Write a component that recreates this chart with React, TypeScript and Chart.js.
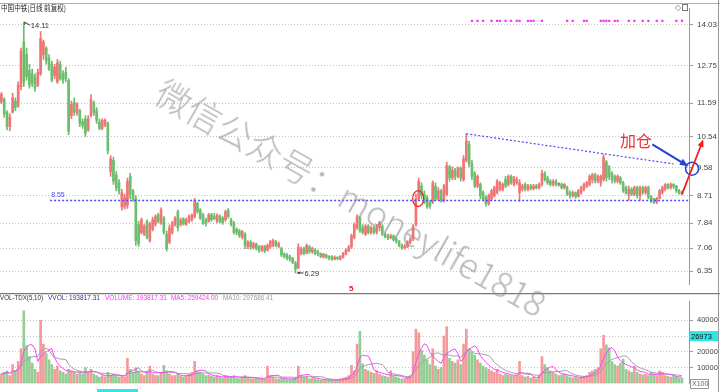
import React, { useEffect, useRef } from 'react';
import { Chart, registerables } from 'chart.js';
Chart.register(...registerables);

// ---------------- data ----------------
const opens = [
  11.62, 11.70, 11.30, 10.85, 11.30, 11.65, 11.50, 12.10, 13.50, 13.10,
  12.60, 12.50, 12.40, 12.15, 12.50, 13.10, 13.30, 13.00, 12.80, 12.45,
  12.25, 12.80, 12.50, 12.55, 12.30, 11.20, 11.60, 11.30, 11.35, 11.00,
  11.10, 10.75, 11.20, 11.60, 11.35, 11.00, 10.80, 10.90, 10.95, 9.45,
  9.80, 9.35, 9.10, 8.35, 8.35, 8.40, 9.30, 8.85, 8.60, 7.80,
  7.55, 7.50, 7.90, 7.30, 7.65, 7.80, 8.10, 7.85, 8.00, 7.50,
  7.25, 7.55, 7.80, 8.20, 7.80, 7.98, 7.80, 7.90, 7.95, 8.05,
  8.45, 8.25, 8.10, 7.95, 7.90, 8.10, 8.05, 7.90, 8.05, 8.00,
  7.95, 8.25, 7.95, 7.85, 7.65, 7.60, 7.40, 7.50, 7.10, 7.25,
  7.08, 7.20, 7.10, 7.00, 7.12, 7.00, 7.10, 7.15, 7.28, 7.12,
  7.05, 6.88, 6.85, 6.80, 6.75, 6.60, 6.45, 6.90, 7.05, 6.90,
  7.10, 6.95, 7.00, 6.95, 6.90, 6.80, 6.85, 6.80, 6.80, 6.72,
  6.78, 6.72, 6.78, 6.88, 6.98, 7.10, 7.40, 7.70, 8.00, 7.70,
  7.50, 7.75, 7.55, 7.70, 7.55, 7.70, 7.75, 7.50, 7.45, 7.38,
  7.45, 7.35, 7.28, 7.15, 7.07, 7.10, 7.25, 7.35, 7.80, 8.60,
  9.00, 8.75, 8.65, 8.50, 8.50, 9.00, 8.60, 8.85, 8.55, 8.75,
  9.60, 9.25, 9.50, 9.30, 9.55, 9.20, 9.80, 10.30, 9.70, 9.40,
  9.00, 9.05, 8.80, 8.65, 8.45, 8.60, 8.70, 8.80, 8.90, 8.90,
  9.20, 9.05, 9.30, 9.05, 9.10, 8.80, 8.90, 9.05, 8.90, 9.00,
  8.92, 9.00, 8.95, 9.05, 9.40, 9.25, 9.15, 9.05, 9.15, 9.05,
  9.05, 8.95, 8.95, 8.80, 8.70, 8.80, 8.68, 8.80, 8.90, 9.00,
  9.05, 9.20, 9.35, 9.15, 9.10, 9.20, 9.75, 9.60, 9.40, 9.30,
  9.15, 9.25, 9.10, 8.95, 8.75, 8.90, 8.75, 8.95, 8.70, 8.95,
  8.80, 8.95, 8.68, 8.60, 8.50, 8.62, 8.80, 8.90, 9.05, 8.95,
  9.05, 9.00, 8.85, 8.80,
];
const closes = [
  11.86, 11.25, 10.85, 11.15, 11.75, 11.45, 12.15, 13.20, 12.25, 12.40,
  12.15, 12.20, 12.05, 12.55, 13.60, 13.50, 12.90, 12.65, 12.30, 12.70,
  12.85, 12.35, 12.30, 12.35, 10.70, 11.55, 11.30, 11.55, 10.95, 10.90,
  10.65, 11.10, 11.70, 11.30, 11.05, 10.80, 11.05, 11.05, 10.10, 9.85,
  9.15, 8.95, 8.85, 8.80, 8.65, 9.15, 8.75, 8.60, 7.30, 7.20,
  7.95, 7.75, 7.40, 7.80, 7.95, 8.05, 7.90, 8.25, 7.55, 7.05,
  7.70, 7.85, 8.00, 7.70, 7.95, 7.82, 7.95, 8.05, 8.10, 8.55,
  8.20, 8.00, 7.85, 7.85, 8.10, 7.95, 7.98, 8.10, 7.90, 7.85,
  8.20, 8.05, 7.80, 7.55, 7.55, 7.45, 7.58, 7.15, 7.25, 7.10,
  7.20, 7.05, 7.00, 7.12, 6.98, 7.15, 7.28, 7.30, 7.15, 7.20,
  6.85, 6.80, 6.75, 6.72, 6.62, 6.40, 7.10, 7.05, 6.90, 7.15,
  6.95, 7.05, 6.90, 6.88, 6.80, 6.88, 6.78, 6.75, 6.72, 6.78,
  6.74, 6.80, 6.90, 7.00, 7.10, 7.45, 7.80, 8.05, 7.60, 7.55,
  7.75, 7.55, 7.70, 7.55, 7.72, 7.85, 7.50, 7.42, 7.38, 7.45,
  7.32, 7.28, 7.15, 7.07, 7.12, 7.25, 7.35, 7.75, 8.60, 9.15,
  8.70, 8.50, 8.35, 8.38, 9.10, 8.60, 8.85, 8.55, 9.00, 9.65,
  9.25, 9.50, 9.30, 9.55, 9.25, 9.85, 10.40, 9.70, 9.30, 9.00,
  9.30, 8.70, 8.60, 8.45, 8.70, 8.85, 8.95, 9.15, 9.10, 9.05,
  9.00, 9.30, 9.10, 9.25, 9.20, 9.10, 9.00, 8.90, 9.00, 8.92,
  9.00, 8.95, 9.05, 9.40, 9.20, 9.10, 9.05, 9.15, 9.05, 9.05,
  8.95, 9.05, 8.75, 8.70, 8.80, 8.68, 8.85, 8.95, 9.05, 9.10,
  9.30, 9.35, 9.15, 9.30, 9.30, 9.90, 9.25, 9.30, 9.20, 9.15,
  9.30, 9.10, 8.85, 8.78, 8.90, 8.75, 8.95, 8.70, 8.95, 8.80,
  8.95, 8.65, 8.55, 8.50, 8.62, 8.85, 8.95, 9.05, 8.95, 9.05,
  8.98, 8.85, 8.78, 8.75,
];
const highs = [
  11.92, 11.75, 11.35, 11.25, 11.90, 11.75, 12.25, 13.30, 14.11, 13.30,
  12.80, 12.65, 12.50, 12.65, 13.82, 13.55, 13.35, 13.10, 12.90, 12.80,
  12.95, 12.90, 12.60, 12.70, 12.35, 11.65, 11.75, 11.60, 11.40, 11.10,
  11.20, 11.20, 11.85, 11.65, 11.45, 11.10, 11.10, 11.10, 11.00, 9.95,
  9.90, 9.45, 9.20, 8.90, 8.75, 9.25, 9.40, 8.90, 8.70, 7.90,
  8.00, 7.80, 7.95, 7.87, 8.03, 8.10, 8.15, 8.32, 8.05, 7.60,
  7.79, 7.90, 8.05, 8.25, 8.00, 8.02, 8.00, 8.10, 8.13, 8.62,
  8.50, 8.30, 8.15, 8.00, 8.15, 8.15, 8.15, 8.13, 8.10, 8.05,
  8.25, 8.30, 8.00, 7.90, 7.70, 7.65, 7.62, 7.55, 7.30, 7.30,
  7.25, 7.22, 7.15, 7.15, 7.15, 7.20, 7.30, 7.35, 7.30, 7.25,
  7.10, 6.92, 6.90, 6.85, 6.78, 6.65, 7.20, 7.10, 7.10, 7.20,
  7.15, 7.10, 7.05, 7.00, 6.92, 6.90, 6.88, 6.83, 6.83, 6.82,
  6.80, 6.83, 6.93, 7.05, 7.15, 7.50, 7.85, 8.10, 8.05, 7.80,
  7.80, 7.80, 7.75, 7.75, 7.80, 7.90, 7.80, 7.55, 7.50, 7.50,
  7.48, 7.40, 7.30, 7.20, 7.18, 7.30, 7.40, 7.80, 8.75, 9.25,
  9.10, 8.85, 8.70, 8.55, 9.16, 9.10, 8.95, 8.90, 9.05, 9.75,
  9.65, 9.60, 9.55, 9.60, 9.60, 9.95, 10.63, 10.40, 9.80, 9.45,
  9.35, 9.10, 8.85, 8.70, 8.75, 8.90, 9.00, 9.20, 9.15, 9.10,
  9.30, 9.35, 9.35, 9.30, 9.28, 9.20, 9.05, 9.10, 9.05, 9.05,
  9.05, 9.05, 9.10, 9.50, 9.45, 9.30, 9.20, 9.20, 9.20, 9.10,
  9.10, 9.08, 9.00, 8.85, 8.85, 8.82, 8.90, 9.00, 9.10, 9.15,
  9.35, 9.40, 9.40, 9.35, 9.35, 9.98, 9.80, 9.65, 9.45, 9.35,
  9.35, 9.30, 9.15, 9.00, 9.00, 8.95, 9.00, 9.00, 9.00, 9.00,
  9.00, 9.00, 8.70, 8.62, 8.65, 8.90, 9.00, 9.08, 9.08, 9.10,
  9.08, 9.02, 8.90, 8.85,
];
const lows = [
  11.58, 11.15, 10.75, 10.72, 11.28, 11.35, 11.45, 12.00, 12.10, 12.30,
  12.05, 12.10, 11.95, 12.10, 12.45, 12.95, 12.80, 12.60, 12.25, 12.35,
  12.20, 12.30, 12.20, 12.25, 10.60, 11.10, 11.20, 11.20, 10.85, 10.80,
  10.55, 10.70, 11.15, 11.20, 10.95, 10.75, 10.75, 10.85, 10.00, 9.30,
  9.05, 8.85, 8.75, 8.25, 8.28, 8.30, 8.60, 8.52, 7.15, 7.12,
  7.50, 7.45, 7.35, 7.25, 7.60, 7.75, 7.85, 7.80, 7.50, 6.97,
  7.20, 7.50, 7.75, 7.60, 7.75, 7.78, 7.77, 7.85, 7.90, 8.00,
  8.15, 7.95, 7.80, 7.75, 7.87, 7.90, 7.95, 7.85, 7.85, 7.80,
  7.90, 8.00, 7.75, 7.50, 7.48, 7.40, 7.35, 7.05, 7.05, 7.02,
  7.03, 7.00, 6.93, 6.95, 6.92, 6.97, 7.05, 7.10, 7.10, 7.08,
  6.80, 6.75, 6.70, 6.66, 6.58, 6.29, 6.42, 6.85, 6.85, 6.88,
  6.90, 6.90, 6.85, 6.82, 6.77, 6.75, 6.74, 6.70, 6.68, 6.70,
  6.70, 6.70, 6.75, 6.85, 6.95, 7.05, 7.35, 7.65, 7.55, 7.50,
  7.45, 7.50, 7.50, 7.50, 7.50, 7.60, 7.45, 7.38, 7.33, 7.35,
  7.28, 7.22, 7.10, 7.02, 7.03, 7.08, 7.20, 7.30, 7.75, 8.55,
  8.60, 8.45, 8.30, 8.30, 8.45, 8.55, 8.55, 8.50, 8.50, 8.70,
  9.15, 9.20, 9.20, 9.25, 9.15, 9.15, 9.75, 9.60, 9.20, 8.95,
  8.95, 8.60, 8.55, 8.37, 8.40, 8.55, 8.65, 8.75, 8.85, 8.85,
  8.95, 9.00, 9.05, 9.00, 9.05, 8.52, 8.85, 8.85, 8.85, 8.88,
  8.88, 8.90, 8.90, 9.00, 9.15, 9.05, 9.00, 9.00, 9.00, 9.00,
  8.90, 8.90, 8.70, 8.62, 8.65, 8.62, 8.65, 8.75, 8.85, 8.95,
  9.00, 9.10, 9.10, 9.10, 9.00, 9.15, 9.15, 9.20, 9.10, 9.10,
  9.10, 9.05, 8.80, 8.75, 8.55, 8.70, 8.70, 8.62, 8.55, 8.75,
  8.75, 8.60, 8.48, 8.45, 8.45, 8.60, 8.75, 8.85, 8.90, 8.90,
  8.92, 8.80, 8.75, 8.72,
];
const volumes = [
  6000, 7000, 8000, 5000, 12000, 8000, 14000, 22000, 46000, 24000,
  17000, 13000, 9000, 7000, 40000, 25000, 19000, 15000, 12000, 9000,
  11000, 8000, 7000, 6000, 9000, 8000, 7000, 6000, 7000, 6000,
  10000, 7000, 9000, 6000, 5000, 4000, 5000, 4000, 7000, 5000,
  6000, 5000, 4000, 5000, 4000, 16000, 9000, 7000, 10000, 8000,
  6000, 5000, 7000, 11000, 6000, 5000, 5000, 7000, 11500, 8000,
  6000, 5000, 5000, 6000, 4500, 4000, 5000, 6000, 7000, 14000,
  8000, 7000, 6000, 5000, 5000, 4500, 4000, 5000, 4000, 3500,
  5000, 4000, 4000, 5000, 3500, 3000, 4000, 5000, 3500, 3000,
  3000, 3000, 2500, 3000, 2500, 11000, 5000, 4000, 3000, 3000,
  3500, 3000, 2500, 2500, 3000, 4000, 11000, 5000, 4000, 4500,
  3000, 3500, 3000, 2500, 2000, 2500, 2000, 2500, 2000, 2500,
  2000, 3000, 3500, 4000, 5000, 11500, 8000, 25000, 33000, 12500,
  9000, 8000, 7000, 6500, 8000, 6000, 5000, 4500, 4000, 8000,
  4500, 4000, 3500, 3000, 3000, 4000, 5000, 20000, 34500, 32000,
  21000, 18000, 15000, 12000, 22000, 11000, 9000, 10000, 30000, 36000,
  16000, 14000, 13000, 15000, 12000, 25000, 34500, 22000, 20000, 18000,
  15000, 13000, 11000, 10000, 9000, 8000, 7000, 9000, 6000, 5000,
  6000, 5500, 5000, 4500, 5000, 14000, 5000, 4000, 4500, 3500,
  4000, 3000, 5000, 17000, 12000, 10000, 8000, 7000, 6000, 5000,
  5500, 6000, 5000, 4000, 3500, 4000, 3500, 4000, 4500, 5000,
  7000, 8000, 9000, 10000, 22000, 30500, 24500, 22500, 14000, 12000,
  11000, 13000, 15500, 9000, 8000, 7000, 11000, 7000, 6000, 5500,
  6000, 5000, 7000, 5500, 5000, 8000, 7000, 5000, 4500, 4000,
  5000, 4000, 3500, 3500,
];
const priceTicks = [14.03, 12.75, 11.59, 10.54, 9.58, 8.71, 7.84, 7.06, 6.35];
const volTicks = [10000, 20000, 30000, 40000];
const signalIdx = [168, 170, 172, 175, 177, 178, 180, 182, 184, 185, 188, 189, 190, 193, 202, 204, 208, 209, 214, 215, 216, 217, 219, 220, 224, 226, 229, 231, 234, 236, 241, 243];
const signalLevel = 14.15;
const supportPrice = 8.55;
const supportFromIdx = 17.4;
const trendFrom = [166, 10.63];
const trendTo = [240, 9.69];
const entryMark = [148.8, 8.61];
const addLabel = '加仓';
const addLabelAt = [226.6, 10.42];
const blueArrowFrom = [232.4, 10.3];
const blueArrowTo = [245.2, 9.62];
const blueCircleAt = [246.6, 9.54];
const redArrowTo = [250.6, 10.45];
const lastVolMark = '26973';
const vvolVal = '193817.31';
const ma5Val = '259424.00';
const ma10Val = '297686.41';
const SLOTS = 246;

// ---------------- styles ----------------
const UP = '#f07575';
const DOWN = '#6cbd6c';
const FLAT = '#888888';
const VUP = '#f49a9a';
const VDOWN = '#94cd94';
const FONT = "'Liberation Sans', Arial, sans-serif";
const CJK = "'Noto Sans CJK SC', sans-serif";

const labels = Array.from({ length: SLOTS }, (_, i) => String(i));
const candleColor = (i: number) => (closes[i] > opens[i] ? UP : closes[i] < opens[i] ? DOWN : FLAT);
const volColor = (i: number) => (closes[i] >= opens[i] ? VUP : VDOWN);
const movingAvg = (arr: number[], n: number) =>
  arr.map((_, i) => {
    const s = Math.max(0, i - n + 1);
    const part = arr.slice(s, i + 1);
    return part.reduce((a, b) => a + b, 0) / part.length;
  });

function arrow(ctx: CanvasRenderingContext2D, x1: number, y1: number, x2: number, y2: number, color: string, w: number, head: number) {
  const a = Math.atan2(y2 - y1, x2 - x1);
  ctx.save();
  ctx.strokeStyle = color;
  ctx.fillStyle = color;
  ctx.lineWidth = w;
  ctx.beginPath();
  ctx.moveTo(x1, y1);
  ctx.lineTo(x2 - Math.cos(a) * head * 0.6, y2 - Math.sin(a) * head * 0.6);
  ctx.stroke();
  ctx.beginPath();
  ctx.moveTo(x2, y2);
  ctx.lineTo(x2 - head * Math.cos(a - 0.4), y2 - head * Math.sin(a - 0.4));
  ctx.lineTo(x2 - head * Math.cos(a + 0.4), y2 - head * Math.sin(a + 0.4));
  ctx.closePath();
  ctx.fill();
  ctx.restore();
}

export default function App() {
  const topRef = useRef<HTMLCanvasElement>(null);
  const volRef = useRef<HTMLCanvasElement>(null);

  useEffect(() => {
    document.body.style.margin = '0';
    document.body.style.background = '#fff';
    const N = opens.length;
    const colors = opens.map((_, i) => candleColor(i));
    const signalSet = new Set(signalIdx);

    const topPlugin = {
      id: 'topAnno',
      afterDraw(chart: any) {
        const { ctx, scales, chartArea } = chart;
        const x = scales.x;
        const y = scales.y;
        const px = (i: number) => x.getPixelForValue(i);
        const py = (v: number) => y.getPixelForValue(v);
        ctx.save();
        // frame
        ctx.strokeStyle = '#b0b0b0';
        ctx.lineWidth = 1;
        ctx.beginPath();
        ctx.moveTo(0, 3.5);
        ctx.lineTo(720, 3.5);
        ctx.stroke();
        ctx.strokeStyle = '#999';
        ctx.beginPath();
        ctx.moveTo(718.5, 0);
        ctx.lineTo(718.5, chart.height);
        ctx.stroke();
        // small icons
        ctx.fillStyle = '#777';
        ctx.font = `8px ${FONT}`;
        ctx.textBaseline = 'middle';
        ctx.fillText('◇', 675, 8);
        ctx.strokeStyle = '#777';
        ctx.strokeRect(682.5, 4.5, 5, 6);
        // title
        ctx.fillStyle = '#222';
        ctx.font = `8px ${CJK}`;
        ctx.textAlign = 'left';
        ctx.fillText('中国中铁(日线 前复权)', 1, 8, 65);
        // max / min markers
        let hi = 0;
        let lo = 0;
        for (let i = 0; i < N; i++) {
          if (highs[i] > highs[hi]) hi = i;
          if (lows[i] < lows[lo]) lo = i;
        }
        ctx.strokeStyle = '#333';
        ctx.fillStyle = '#333';
        ctx.lineWidth = 1;
        const hx = px(hi);
        const hy = py(highs[hi]);
        ctx.beginPath();
        ctx.moveTo(hx + 6, hy + 3);
        ctx.lineTo(hx + 1, hy);
        ctx.lineTo(hx + 1, hy + 2.5);
        ctx.stroke();
        ctx.font = `7.5px ${FONT}`;
        ctx.fillText(highs[hi].toFixed(2), hx + 7, hy + 3.5);
        const lx = px(lo);
        const ly = py(lows[lo]);
        arrow(ctx, lx + 8, ly, lx + 1, ly, '#333', 1, 3.5);
        ctx.fillText(lows[lo].toFixed(2), lx + 9, ly + 0.5);
        // support line
        const sy = py(supportPrice);
        ctx.strokeStyle = '#4b4bff';
        ctx.lineWidth = 1.4;
        ctx.setLineDash([2, 2]);
        ctx.beginPath();
        ctx.moveTo(px(supportFromIdx), sy);
        ctx.lineTo(chartArea.right, sy);
        ctx.stroke();
        // trend line
        ctx.lineWidth = 1.2;
        ctx.beginPath();
        ctx.moveTo(px(trendFrom[0]), py(trendFrom[1]));
        ctx.lineTo(px(trendTo[0]), py(trendTo[1]));
        ctx.stroke();
        ctx.setLineDash([]);
        ctx.fillStyle = '#4b4bff';
        ctx.font = `7px ${FONT}`;
        ctx.fillText(supportPrice.toFixed(2), px(supportFromIdx) + 1, sy - 5);
        // red ellipse at breakout
        ctx.strokeStyle = '#ee2222';
        ctx.lineWidth = 1.2;
        ctx.beginPath();
        ctx.ellipse(px(entryMark[0]), py(entryMark[1]), 5.5, 8, 0, 0, Math.PI * 2);
        ctx.stroke();
        // 加仓 annotation
        ctx.fillStyle = '#f03030';
        ctx.font = `16px ${CJK}`;
        ctx.textAlign = 'center';
        ctx.fillText(addLabel, px(addLabelAt[0]), py(addLabelAt[1]));
        ctx.textAlign = 'left';
        arrow(ctx, px(blueArrowFrom[0]), py(blueArrowFrom[1]), px(blueArrowTo[0]), py(blueArrowTo[1]), '#2545d0', 2.2, 9);
        ctx.strokeStyle = '#2545d0';
        ctx.lineWidth = 1.5;
        ctx.beginPath();
        ctx.arc(px(blueCircleAt[0]), py(blueCircleAt[1]), 6.5, 0, Math.PI * 2);
        ctx.stroke();
        arrow(ctx, px(N - 1), py(closes[N - 1]), px(redArrowTo[0]), py(redArrowTo[1]), '#f02020', 1.8, 8);
        // small red marker
        ctx.fillStyle = '#e02020';
        ctx.font = `bold 8px ${FONT}`;
        ctx.fillText('5', 349, 289);
        ctx.restore();
      },
    };

    const top = new Chart(topRef.current as HTMLCanvasElement, {
      data: {
        labels,
        datasets: [
          {
            type: 'bar',
            data: lows.map((l, i) => [l, highs[i]]),
            backgroundColor: colors,
            barThickness: 1,
            grouped: false,
            order: 2,
          } as any,
          {
            type: 'bar',
            data: opens.map((o, i) => [Math.min(o, closes[i]), Math.max(o, closes[i])]),
            backgroundColor: colors,
            barThickness: 2,
            minBarLength: 1,
            grouped: false,
            order: 1,
          } as any,
          {
            type: 'line',
            data: labels.map((_, i) => (signalSet.has(i) ? signalLevel : null)),
            showLine: false,
            pointStyle: 'rect',
            pointRadius: 1.6,
            pointBackgroundColor: '#ff33ff',
            pointBorderWidth: 0,
            order: 0,
          } as any,
        ],
      },
      options: {
        responsive: false,
        animation: false,
        events: [],
        layout: { padding: 0, autoPadding: false },
        plugins: { legend: { display: false }, tooltip: { enabled: false } },
        scales: {
          x: { type: 'category', display: false, offset: true },
          y: {
            type: 'linear',
            position: 'right',
            min: 5.939,
            max: 14.528,
            afterBuildTicks: (s: any) => {
              s.ticks = priceTicks.map((v) => ({ value: v }));
            },
            afterFit: (s: any) => {
              s.width = 31;
            },
            ticks: {
              color: '#444',
              font: { size: 8, family: FONT },
              padding: 4,
              callback: (v: any) => Number(v).toFixed(2),
            },
            grid: { color: '#c2c2c2', tickLength: 4, tickColor: '#999' },
            border: { display: true, color: '#999', width: 1, dash: [1, 2] },
          },
        },
      } as any,
      plugins: [topPlugin],
    });

    const ma5 = movingAvg(volumes, 5);
    const ma10 = movingAvg(volumes, 10);

    const volPlugin = {
      id: 'volAnno',
      afterDraw(chart: any) {
        const { ctx, scales } = chart;
        const y = scales.y;
        ctx.save();
        ctx.strokeStyle = '#777';
        ctx.lineWidth = 1.2;
        ctx.beginPath();
        ctx.moveTo(0, 0.6);
        ctx.lineTo(720, 0.6);
        ctx.stroke();
        ctx.strokeStyle = '#999';
        ctx.lineWidth = 1;
        ctx.beginPath();
        ctx.moveTo(718.5, 0);
        ctx.lineTo(718.5, chart.height);
        ctx.stroke();
        // header
        ctx.textBaseline = 'middle';
        ctx.textAlign = 'left';
        ctx.font = `8px ${FONT}`;
        const hdr = [
          { t: 'VOL-TDX(5,10)', x: 0, w: 43, c: '#333' },
          { t: `VVOL: ${vvolVal}`, x: 48, w: 52, c: '#333399' },
          { t: `VOLUME: ${vvolVal}`, x: 105, w: 62, c: '#ff33ff' },
          { t: `MA5: ${ma5Val}`, x: 171, w: 47, c: '#ff33ff' },
          { t: `MA10: ${ma10Val}`, x: 223, w: 50, c: '#999' },
        ];
        hdr.forEach((h) => {
          ctx.fillStyle = h.c;
          ctx.fillText(h.t, h.x, 4.5, h.w);
        });
        // last volume box
        const by = y.getPixelForValue(30000);
        ctx.fillStyle = '#2ee6e6';
        ctx.fillRect(690, by - 5, 28, 10);
        ctx.fillStyle = '#111';
        ctx.font = `7.5px ${FONT}`;
        ctx.fillText(lastVolMark, 691, by + 0.5);
        // X100 box
        ctx.strokeStyle = '#999';
        ctx.lineWidth = 1;
        ctx.strokeRect(690.5, 86.5, 18, 9);
        ctx.fillStyle = '#666';
        ctx.font = `7px ${FONT}`;
        ctx.fillText('X100', 692, 91.5);
        // date box hint at bottom
        ctx.fillStyle = '#2ee6e6';
        ctx.fillRect(97, 96, 41, 3);
        ctx.restore();
      },
    };

    const vol = new Chart(volRef.current as HTMLCanvasElement, {
      data: {
        labels,
        datasets: [
          { type: 'line', data: ma5, borderColor: '#ff40ff', borderWidth: 1, pointRadius: 0, order: 0 } as any,
          { type: 'line', data: ma10, borderColor: '#a0a0a0', borderWidth: 1, pointRadius: 0, order: 1 } as any,
          {
            type: 'bar',
            data: volumes,
            backgroundColor: volumes.map((_, i) => volColor(i)),
            barThickness: 2,
            order: 2,
          } as any,
        ],
      },
      options: {
        responsive: false,
        animation: false,
        events: [],
        layout: { padding: { left: 0, right: 0, top: 0, bottom: 3 }, autoPadding: false },
        plugins: { legend: { display: false }, tooltip: { enabled: false } },
        scales: {
          x: { type: 'category', display: false, offset: true },
          y: {
            type: 'linear',
            position: 'right',
            min: 0,
            max: 51900,
            afterBuildTicks: (s: any) => {
              s.ticks = volTicks.map((v) => ({ value: v }));
            },
            afterFit: (s: any) => {
              s.width = 31;
            },
            ticks: {
              color: '#444',
              font: { size: 7.5, family: FONT },
              padding: 4,
              callback: (v: any) => (Number(v) === 30000 ? '' : String(v)),
            },
            grid: { color: '#c2c2c2', tickLength: 4, tickColor: '#999' },
            border: { display: true, color: '#999', width: 1, dash: [1, 2] },
          },
        },
      } as any,
      plugins: [volPlugin],
    });

    return () => {
      top.destroy();
      vol.destroy();
    };
  }, []);

  return (
    <div style={{ position: 'relative', width: 720, height: 392, overflow: 'hidden', background: '#fff' }}>
      <canvas ref={topRef} width={720} height={293} style={{ position: 'absolute', left: 0, top: 0 }} />
      <canvas ref={volRef} width={720} height={99} style={{ position: 'absolute', left: 0, top: 293 }} />
      <div
        style={{
          position: 'absolute',
          left: 160,
          top: 70,
          height: 35,
          lineHeight: '35px',
          fontSize: 35,
          fontFamily: CJK,
          fontWeight: 300,
          color: 'rgba(140,140,140,0.62)',
          whiteSpace: 'nowrap',
          transform: 'rotate(29.5deg)',
          transformOrigin: '0 50%',
          pointerEvents: 'none',
        }}
      >
        微信公众号：moneylife1818
      </div>
    </div>
  );
}
